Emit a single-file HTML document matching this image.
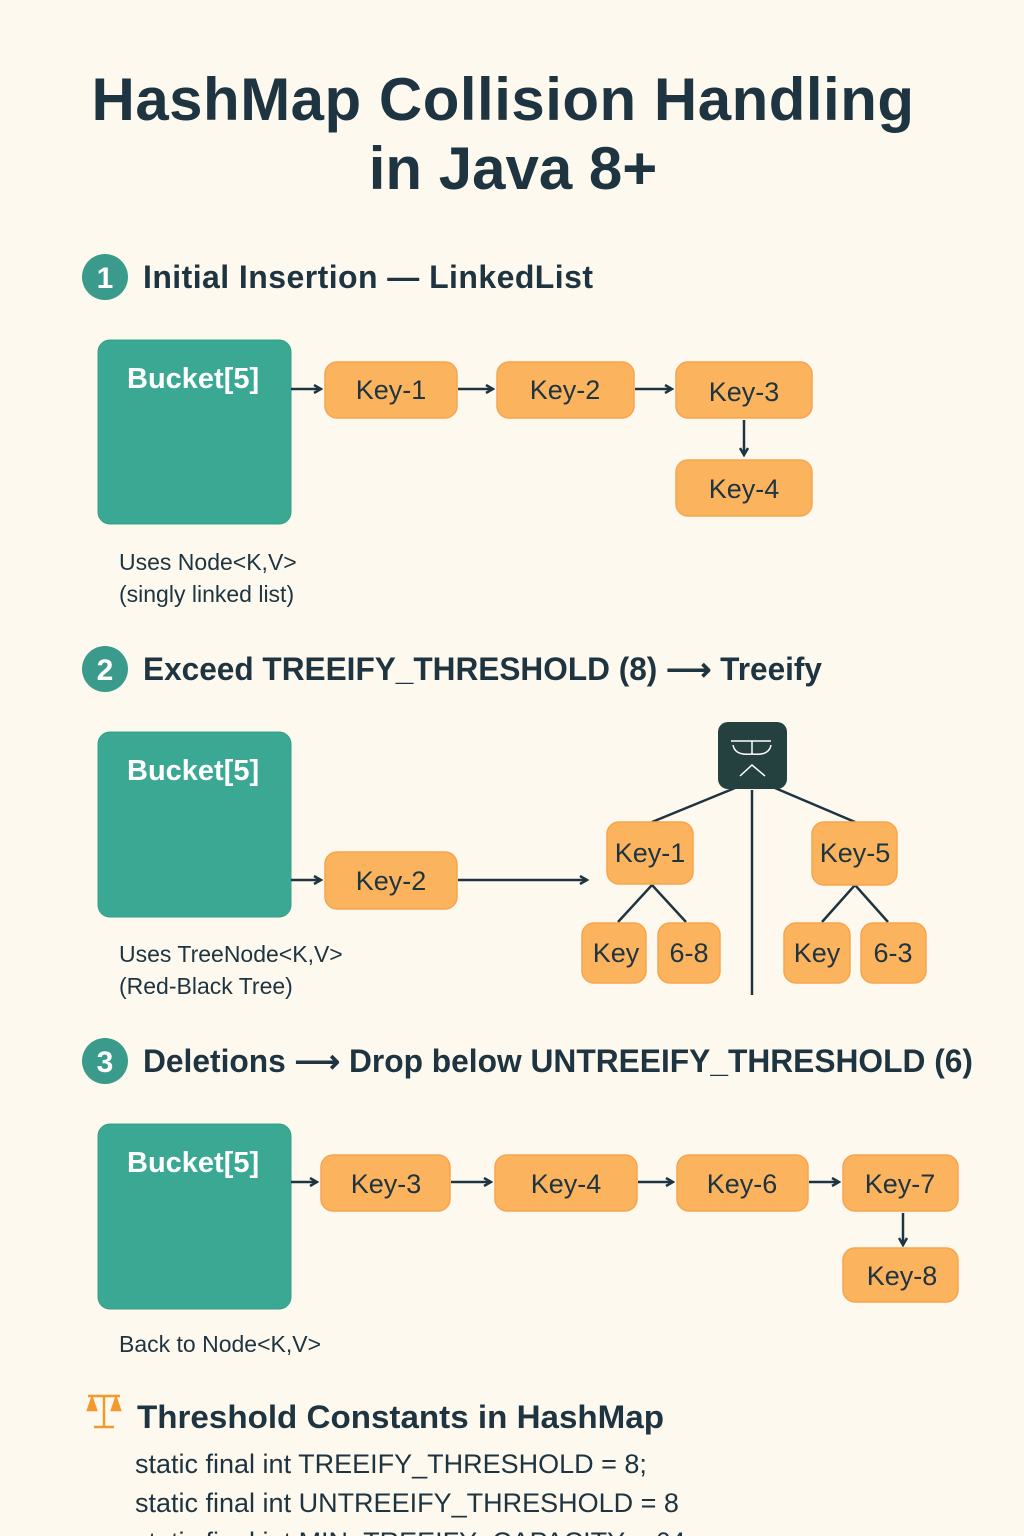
<!DOCTYPE html>
<html><head><meta charset="utf-8"><style>
html,body{margin:0;padding:0;background:#fdf9ef;}
svg{display:block;font-family:"Liberation Sans",sans-serif;}
.t{fill:#1e3440;font-weight:bold;}
.k{fill:#fbb35e;stroke:#f6a54e;stroke-width:1.5;}
.b{fill:#3aa892;stroke:#35a08a;}
.kt{fill:#1e3440;font-size:27px;text-anchor:middle;}
.bt{fill:#fff;font-size:29px;font-weight:bold;}
.cap{fill:#1e3440;font-size:23px;}
.ln{stroke:#1e3440;stroke-width:2.5;fill:none;}
.h{fill:#1e3440;font-size:32px;font-weight:bold;}
.num{fill:#fff;font-size:30px;font-weight:bold;text-anchor:middle;}
</style></head><body>
<svg width="1024" height="1536" viewBox="0 0 1024 1536" xmlns="http://www.w3.org/2000/svg">
<defs><marker id="a" markerWidth="10" markerHeight="10" refX="8" refY="5" orient="auto" markerUnits="userSpaceOnUse"><path d="M1,1 L8,5 L1,9" fill="none" stroke="#1e3440" stroke-width="2.5"/></marker></defs>
<rect width="1024" height="1536" fill="#fdf9ef"/>
<text x="503" y="120" class="t" font-size="60" text-anchor="middle" letter-spacing="0.5">HashMap Collision Handling</text>
<text x="513" y="189" class="t" font-size="60" text-anchor="middle">in Java 8+</text>

<circle cx="105" cy="277" r="23" fill="#3a9a8c"/><text x="105" y="288" class="num">1</text>
<text x="143" y="288" class="h" textLength="450" lengthAdjust="spacing">Initial Insertion — LinkedList</text>
<rect x="98" y="340" width="193" height="184" rx="12" class="b"/>
<text x="127" y="388" class="bt">Bucket[5]</text>
<rect x="325" y="362" width="132" height="56" rx="12" class="k"/><text x="391" y="399" class="kt">Key-1</text>
<rect x="497" y="362" width="137" height="56" rx="12" class="k"/><text x="565" y="399" class="kt">Key-2</text>
<rect x="676" y="362" width="136" height="56" rx="12" class="k"/><text x="744" y="401" class="kt">Key-3</text>
<rect x="676" y="460" width="136" height="56" rx="12" class="k"/><text x="744" y="498" class="kt">Key-4</text>
<line x1="291" y1="389" x2="321" y2="389" class="ln" marker-end="url(#a)"/>
<line x1="458" y1="389" x2="493" y2="389" class="ln" marker-end="url(#a)"/>
<line x1="635" y1="389" x2="672" y2="389" class="ln" marker-end="url(#a)"/>
<line x1="744" y1="420" x2="744" y2="455" class="ln" marker-end="url(#a)"/>
<text x="119" y="570" class="cap">Uses Node&lt;K,V&gt;</text>
<text x="119" y="602" class="cap">(singly linked list)</text>

<circle cx="105" cy="669" r="23" fill="#3a9a8c"/><text x="105" y="680" class="num">2</text>
<text x="143" y="680" class="h" textLength="679" lengthAdjust="spacingAndGlyphs">Exceed TREEIFY_THRESHOLD (8) ⟶ Treeify</text>
<rect x="98" y="732" width="193" height="185" rx="12" class="b"/>
<text x="127" y="780" class="bt">Bucket[5]</text>
<rect x="325" y="852" width="132" height="57" rx="12" class="k"/><text x="391" y="890" class="kt">Key-2</text>
<line x1="291" y1="880" x2="321" y2="880" class="ln" marker-end="url(#a)"/>
<line x1="458" y1="880" x2="587" y2="880" class="ln" marker-end="url(#a)"/>
<line x1="735" y1="788" x2="652" y2="822" class="ln"/>
<line x1="775" y1="788" x2="855" y2="822" class="ln"/>
<line x1="752" y1="790" x2="752" y2="995" class="ln"/>
<rect x="718" y="722" width="69" height="67" rx="10" fill="#24403f"/>
<path d="M731,741 H771 M733,745 Q735,756 752,754 Q769,756 771,745 M752,741 V754 M740,776 L752,765 L765,776" stroke="#fff" stroke-width="1.5" fill="none"/>
<line x1="652" y1="885" x2="618" y2="922" class="ln"/>
<line x1="652" y1="885" x2="686" y2="922" class="ln"/>
<line x1="855" y1="885" x2="822" y2="922" class="ln"/>
<line x1="855" y1="885" x2="888" y2="922" class="ln"/>
<rect x="607" y="822" width="86" height="62" rx="12" class="k"/><text x="650" y="862" class="kt">Key-1</text>
<rect x="812" y="822" width="85" height="63" rx="12" class="k"/><text x="855" y="862" class="kt">Key-5</text>
<rect x="582" y="923" width="64" height="60" rx="12" class="k"/><text x="616" y="962" class="kt">Key</text>
<rect x="658" y="923" width="62" height="60" rx="12" class="k"/><text x="689" y="962" class="kt">6-8</text>
<rect x="784" y="923" width="66" height="60" rx="12" class="k"/><text x="817" y="962" class="kt">Key</text>
<rect x="861" y="923" width="65" height="60" rx="12" class="k"/><text x="893" y="962" class="kt">6-3</text>
<text x="119" y="962" class="cap">Uses TreeNode&lt;K,V&gt;</text>
<text x="119" y="994" class="cap">(Red-Black Tree)</text>

<circle cx="105" cy="1061" r="23" fill="#3a9a8c"/><text x="105" y="1072" class="num">3</text>
<text x="143" y="1072" class="h" textLength="830" lengthAdjust="spacingAndGlyphs">Deletions ⟶ Drop below UNTREEIFY_THRESHOLD (6)</text>
<rect x="98" y="1124" width="193" height="185" rx="12" class="b"/>
<text x="127" y="1172" class="bt">Bucket[5]</text>
<rect x="321" y="1155" width="129" height="56" rx="12" class="k"/><text x="386" y="1193" class="kt">Key-3</text>
<rect x="495" y="1155" width="142" height="56" rx="12" class="k"/><text x="566" y="1193" class="kt">Key-4</text>
<rect x="677" y="1155" width="131" height="56" rx="12" class="k"/><text x="742" y="1193" class="kt">Key-6</text>
<rect x="843" y="1155" width="115" height="56" rx="12" class="k"/><text x="900" y="1193" class="kt">Key-7</text>
<rect x="843" y="1248" width="115" height="54" rx="12" class="k"/><text x="902" y="1285" class="kt">Key-8</text>
<line x1="291" y1="1182" x2="317" y2="1182" class="ln" marker-end="url(#a)"/>
<line x1="451" y1="1182" x2="491" y2="1182" class="ln" marker-end="url(#a)"/>
<line x1="638" y1="1182" x2="673" y2="1182" class="ln" marker-end="url(#a)"/>
<line x1="809" y1="1182" x2="839" y2="1182" class="ln" marker-end="url(#a)"/>
<line x1="903" y1="1213" x2="903" y2="1245" class="ln" marker-end="url(#a)"/>
<text x="119" y="1352" class="cap">Back to Node&lt;K,V&gt;</text>

<g stroke="#f39a2e" stroke-width="2.5" fill="none">
<line x1="88" y1="1396" x2="120" y2="1396"/><line x1="104" y1="1396" x2="104" y2="1427"/><line x1="94" y1="1427" x2="114" y2="1427"/>
<path d="M88,1410 L92,1398 L96,1410 Z M112,1410 L116,1398 L120,1410 Z" fill="#f39a2e"/>
</g>
<text x="137" y="1428" class="h" textLength="527" lengthAdjust="spacingAndGlyphs">Threshold Constants in HashMap</text>
<text x="135" y="1473" fill="#1e3440" font-size="27">static final int TREEIFY_THRESHOLD = 8;</text>
<text x="135" y="1512" fill="#1e3440" font-size="27">static final int UNTREEIFY_THRESHOLD = 8</text>
<text x="135" y="1551" fill="#1e3440" font-size="27">static final int MIN_TREEIFY_CAPACITY = 64</text>
</svg>
</body></html>
